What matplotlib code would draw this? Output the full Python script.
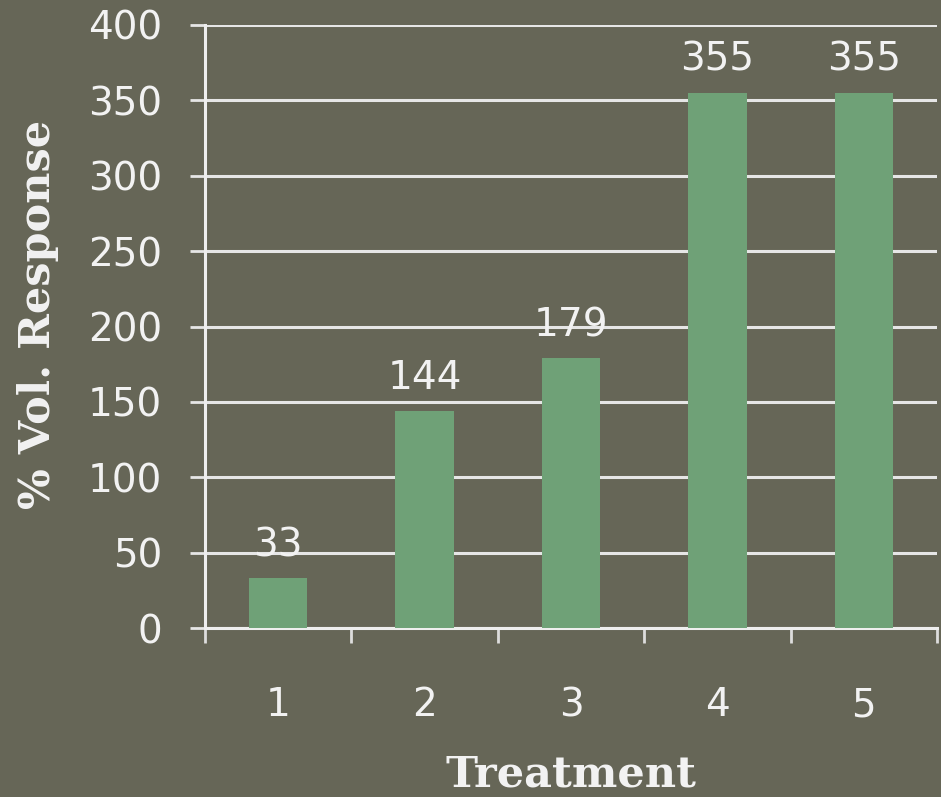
import matplotlib
matplotlib.use("Agg")
import matplotlib.pyplot as plt
import numpy as np

treatments = ["1", "2", "3", "4", "5"]
response = [33, 144, 179, 355, 355]

bg = "#666657"
bar_color = "#6fa177"
fg = "#f2f2f2"

fig = plt.figure(figsize=(9.41, 7.97), dpi=100, facecolor=bg)
ax = fig.add_axes([205 / 941, 169 / 797, 732 / 941, 603 / 797], facecolor=bg)

x = np.arange(1, len(treatments) + 1)
ax.bar(x, response, width=0.4, color=bar_color, zorder=3)

for xi, v in zip(x, response):
    ax.annotate(str(v), (xi, v), xytext=(0, 10), textcoords="offset points",
                ha="center", va="bottom", color=fg, fontsize=28, family="DejaVu Sans")

ax.set_xlim(0.5, len(treatments) + 0.5)
ax.set_ylim(0, 400)
ax.set_yticks(np.arange(0, 401, 50))
ax.yaxis.grid(True, color="#e6e6e6", linewidth=2.2, zorder=1)
ax.set_axisbelow(True)

ax.set_xticks(x)
ax.set_xticklabels(treatments)
ax.set_xticks(np.arange(0.5, len(treatments) + 1, 1.0), minor=True)
ax.tick_params(axis="x", which="major", length=0, pad=42, labelsize=28, labelcolor=fg)
ax.tick_params(axis="x", which="minor", length=11, width=2, color="#dddddd", direction="out")
ax.tick_params(axis="y", length=11, width=2, color="#e6e6e6", pad=20, labelsize=28, labelcolor=fg)

for side in ["top", "right"]:
    ax.spines[side].set_visible(False)
for side in ["left", "bottom"]:
    ax.spines[side].set_color("#eeeeee")
    ax.spines[side].set_linewidth(2.2)

ax.set_ylabel("% Vol. Response", fontsize=31, fontweight="bold", family="DejaVu Serif",
              color=fg)
ax.set_xlabel("Treatment", fontsize=31, fontweight="bold", family="DejaVu Serif",
              color=fg)
# pin axis titles in axes coordinates
ax.yaxis.set_label_coords(-0.2, 0.52)
ax.xaxis.set_label_coords(0.5, -0.208)

fig.savefig("out.png", dpi=100, facecolor=bg)
